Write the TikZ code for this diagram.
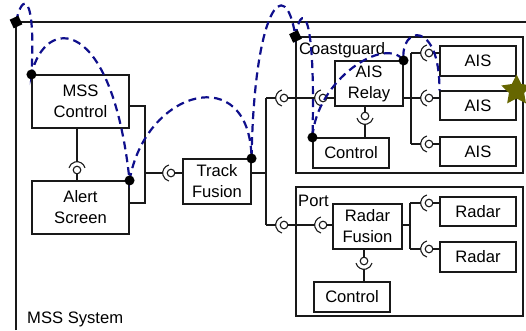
\documentclass[tikz,border=0pt]{standalone}
\usepackage{fontspec}
\setmainfont{Liberation Sans}
\usetikzlibrary{shapes.geometric}
\definecolor{pathblue}{RGB}{15,15,140}
\definecolor{starolive}{RGB}{102,102,0}
\definecolor{linegray}{RGB}{25,25,25}
\newcommand\fs{\fontsize{16.6}{21}\selectfont}
\newcommand\bsock[3]{%
  \pgfmathsetmacro\sockA{#3+105}\pgfmathsetmacro\sockE{#3+255}\pgfmathsetmacro\sockO{#3+180}%
  \coordinate (#1c) at (#2);
  \draw[wire] ([shift={(\sockA:8.3pt)}]#1c) arc[start angle=\sockA, end angle=\sockE, radius=8.3pt];
  \node[ball] (#1b) at (#1c) {};
  \coordinate (#1s) at ([shift={(\sockO:8.3pt)}]#1c);
}
\tikzset{
  wire/.style={draw=linegray, line width=1.1pt},
  compbox/.style={draw=linegray, line width=1.1pt, align=center, inner sep=0pt, font=\fs},
  ball/.style={circle, draw=linegray, line width=1.1pt, fill=white, minimum size=7.6pt, inner sep=0pt},
  groupframe/.style={draw=linegray, line width=1.1pt, inner sep=0pt},
  lbl/.style={anchor=base west, inner sep=0pt, font=\fs},
  route/.style={draw=pathblue, line width=2.2pt, dash pattern=on 8pt off 5pt},
  pathdot/.style={circle, fill=black, minimum size=10pt, inner sep=0pt},
  cornersq/.style={rectangle, fill=black, minimum size=9.5pt, inner sep=0pt, rotate=25},
  goal/.style={star, star points=5, star point ratio=2, fill=starolive, minimum size=32pt, inner sep=0pt}
}
\begin{document}
\begin{tikzpicture}[x=1pt,y=1pt]
\useasboundingbox (0,0) rectangle (526,-330);
% outer system frame
\coordinate (sys) at (16,-22);
\draw[wire] (16,-330) -- (sys) -- (526,-22);
\node[lbl] (syslbl) at (27,-323.5) {MSS System};
% group frames
\node[groupframe, minimum width=227pt, minimum height=136pt] (cg) at (409.5,-105) {};
\node[lbl] (cglbl) at (299,-54) {Coastguard};
\node[groupframe, minimum width=227pt, minimum height=129pt] (port) at (409.5,-251.5) {};
\node[lbl] (portlbl) at (298,-206) {Port};
% components
\node[compbox, minimum width=97pt, minimum height=53pt] (mssc) at (80.5,-101.5) {MSS\\Control};
\node[compbox, minimum width=97pt, minimum height=53pt] (alert) at (80.5,-207.5) {Alert\\Screen};
\node[compbox, minimum width=68pt, minimum height=45pt] (track) at (217,-181.5) {Track\\Fusion};
\node[compbox, minimum width=68pt, minimum height=45pt] (relay) at (369,-83.5) {AIS\\Relay};
\node[compbox, minimum width=76pt, minimum height=30pt] (cgctl) at (351,-153) {Control};
\node[compbox, minimum width=76pt, minimum height=30pt] (ais1) at (478,-61) {AIS};
\node[compbox, minimum width=76pt, minimum height=29pt] (ais2) at (478,-105.5) {AIS};
\node[compbox, minimum width=76pt, minimum height=29pt] (ais3) at (478,-151.5) {AIS};
\node[compbox, minimum width=69pt, minimum height=45pt] (rfus) at (367.5,-226.5) {Radar\\Fusion};
\node[compbox, minimum width=76pt, minimum height=30pt] (ptctl) at (352,-297) {Control};
\node[compbox, minimum width=76pt, minimum height=29pt] (rad1) at (478,-211.5) {Radar};
\node[compbox, minimum width=76pt, minimum height=30pt] (rad2) at (478,-257) {Radar};
% ball and socket connectors
\bsock{ka}{77,-170}{-90}
\draw[wire] (kas) -- (kas |- mssc.south);
\draw[wire] (kab.south) -- (kab.south |- alert.north);
\coordinate (fa) at (145,-106);
\coordinate (fb) at (145,-203);
\coordinate (fc) at (145,-173);
\draw[wire] (mssc.east |- fa) -- (fa) -- (fb) -- (alert.east |- fb);
\bsock{kb}{171,-173}{0}
\draw[wire] (fc) -- (kbs);
\draw[wire] (kbb.east) -- (track.west |- kbb);
\coordinate (ta) at (266,-173);
\coordinate (tb) at (266,-98);
\coordinate (tc) at (266,-225);
\draw[wire] (track.east |- ta) -- (ta);
\draw[wire] (tb) -- (tc);
\bsock{kc}{284,-98}{0}
\bsock{kd}{323,-98}{0}
\draw[wire] (tb) -- (kcs);
\draw[wire] (kcb.east) -- (kds);
\draw[wire] (kdb.east) -- (relay.west |- kdb);
\bsock{ke}{284,-225}{0}
\bsock{kf}{323,-225}{0}
\draw[wire] (tc) -- (kes);
\draw[wire] (keb.east) -- (kfs);
\draw[wire] (kfb.east) -- (rfus.west |- kfb);
% relay to control
\bsock{kg}{365,-116}{90}
\draw[wire] (kgb.north) -- (kgb.north |- relay.south);
\draw[wire] (kgs) -- (kgs |- cgctl.north);
% relay to AIS
\coordinate (ra) at (411,-98);
\coordinate (rb) at (411,-53);
\coordinate (rc) at (411,-144);
\draw[wire] (relay.east |- ra) -- (ra);
\draw[wire] (rb) -- (rc);
\bsock{kh}{429,-53}{0}
\bsock{ki}{429,-98}{0}
\bsock{kj}{429,-144}{0}
\draw[wire] (rb) -- (khs);
\draw[wire] (ra) -- (kis);
\draw[wire] (rc) -- (kjs);
\draw[wire] (khb.east) -- (ais1.west |- khb);
\draw[wire] (kib.east) -- (ais2.west |- kib);
\draw[wire] (kjb.east) -- (ais3.west |- kjb);
% radar fusion to control
\bsock{kk}{364,-261}{90}
\draw[wire] (kkb.north) -- (kkb.north |- rfus.south);
\draw[wire] (kks) -- (kks |- ptctl.north);
% radar fusion to radars
\coordinate (pa) at (410,-225);
\coordinate (pb) at (410,-203);
\coordinate (pc) at (410,-249);
\draw[wire] (rfus.east |- pa) -- (pa);
\draw[wire] (pb) -- (pc);
\bsock{kl}{429,-203}{0}
\bsock{km}{429,-249}{0}
\draw[wire] (pb) -- (kls);
\draw[wire] (pc) -- (kms);
\draw[wire] (klb.east) -- (rad1.west |- klb);
\draw[wire] (kmb.east) -- (rad2.west |- kmb);
% highlighted route
\draw[route] (sys) .. controls (22,8) and (36,8) .. (mssc.north west)
  .. controls (45,-15) and (112,-15) .. (alert.north east)
  .. controls (145,-90) and (250,-60) .. (track.north east)
  .. controls (254,-10) and (285,30) .. (cg.north west)
  .. controls (300,-5) and (316,0) .. (cgctl.north west)
  .. controls (316,-80) and (385,-35) .. (relay.north east)
  .. controls (400,-25) and (440,-20) .. (ais2.north west);
\node[cornersq] (sqa) at (sys) {};
\node[cornersq] (sqb) at (cg.north west) {};
\node[pathdot] (da) at (mssc.north west) {};
\node[pathdot] (db) at (alert.north east) {};
\node[pathdot] (dc) at (track.north east) {};
\node[pathdot] (dd) at (cgctl.north west) {};
\node[pathdot] (de) at (relay.north east) {};
\node[goal] (target) at (ais2.north east) {};
\end{tikzpicture}
\end{document}
